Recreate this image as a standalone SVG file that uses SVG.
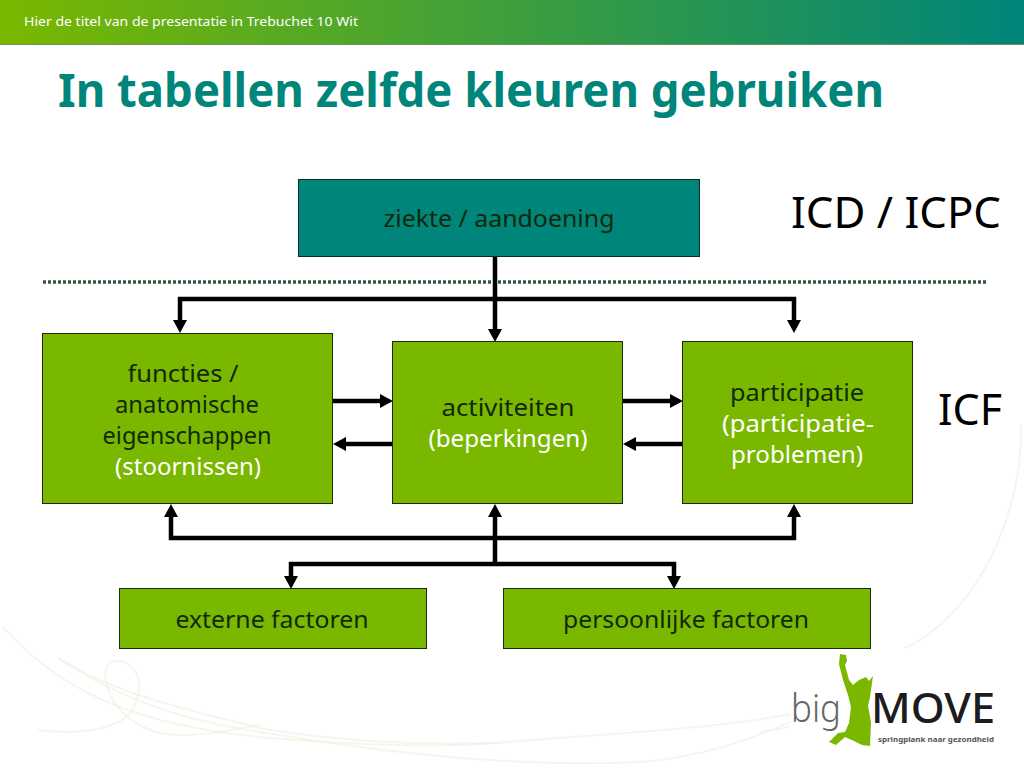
<svg xmlns="http://www.w3.org/2000/svg" width="1024" height="768" viewBox="0 0 1024 768">
<style>
text{font-family:"Noto Sans","Open Sans","Liberation Sans",sans-serif;text-anchor:middle;font-variant-ligatures:none}
.n{font-size:24px;fill:#12280a}
.w{font-size:24px;fill:#fff}
.g{fill:#7ab800;stroke:#1a2a0a;stroke-width:1}
.lab{font-size:44px;fill:#000}
.c{fill:none;stroke:#000;stroke-width:4.500}
.s{fill:none;stroke:#eff0e2;stroke-width:2;stroke-dasharray:1 .6}
</style>
<defs>
<linearGradient id="bar" x1="0" x2="1" y1="0" y2="0"><stop offset="0" stop-color="#7ab800"/><stop offset="1" stop-color="#00857a"/></linearGradient>
<marker id="a" markerUnits="userSpaceOnUse" markerWidth="16" markerHeight="16" refX="1" refY="7" orient="auto"><path d="M0 0L13 7L0 14Z" fill="#000"/></marker>
</defs>
<rect width="1024" height="768" fill="#fff"/>
<g id="swooshes">
<path class="s" d="M2 626C60 690 130 725 270 738C370 746 450 748 520 741C620 733 720 728 790 714"/>
<path class="s" d="M58 658C130 705 190 722 280 735C380 752 520 768 640 762C700 757 750 740 790 722"/>
<path class="s" d="M38 730C80 735 125 730 135 705C145 680 135 662 118 661C100 660 100 690 125 715C160 745 200 735 260 725"/>
<path class="s" d="M58 658C120 695 170 705 260 728C340 742 420 745 500 743"/>
<path class="s" d="M760 732C775 730 785 728 790 726"/>
<path class="s" d="M1021 424C1024 500 985 610 905 648"/>
</g>
<g id="header">
<rect width="1024" height="44" fill="url(#bar)"/>
<path d="M0 44.500H1024" stroke="#6f8f60" stroke-width="1"/>
<text x="24" y="26" font-size="12.500" fill="#fff" style="text-anchor:start" textLength="334" lengthAdjust="spacingAndGlyphs">Hier de titel van de presentatie in Trebuchet 10 Wit</text>
</g>
<text id="title" x="58" y="107" font-size="47" font-weight="700" fill="#00857a" style="text-anchor:start" textLength="826" lengthAdjust="spacingAndGlyphs">In tabellen zelfde kleuren gebruiken</text>
<path id="divider" d="M43 282H987" fill="none" stroke="#2f5a3c" stroke-width="3.500" stroke-dasharray="3 2"/>
<g id="connectors">
<path class="c" d="M495 257V330" marker-end="url(#a)"/>
<path class="c" d="M495 299H180V321" marker-end="url(#a)"/>
<path class="c" d="M495 299H794V321" marker-end="url(#a)"/>
<path class="c" d="M333 401H381" marker-end="url(#a)"/>
<path class="c" d="M393 444H345" marker-end="url(#a)"/>
<path class="c" d="M623 401H671" marker-end="url(#a)"/>
<path class="c" d="M683 444H635" marker-end="url(#a)"/>
<path class="c" d="M495 538H171V516" marker-end="url(#a)"/>
<path class="c" d="M495 538H794V516" marker-end="url(#a)"/>
<path class="c" d="M495 564V516" marker-end="url(#a)"/>
<path class="c" d="M495 564H291V577" marker-end="url(#a)"/>
<path class="c" d="M495 564H674V577" marker-end="url(#a)"/>
</g>
<g id="ziekte">
<rect x="298.500" y="179.500" width="401" height="77" fill="#00857a" stroke="#0c2a26"/>
<text class="n" x="499" y="227" textLength="231" lengthAdjust="spacingAndGlyphs">ziekte / aandoening</text>
</g>
<g id="functies">
<rect class="g" x="42.500" y="333.500" width="290" height="170"/>
<text class="n" x="183" y="382" textLength="111" lengthAdjust="spacingAndGlyphs">functies /</text>
<text class="n" x="187" y="413" textLength="144" lengthAdjust="spacingAndGlyphs">anatomische</text>
<text class="n" x="187" y="444" textLength="169" lengthAdjust="spacingAndGlyphs">eigenschappen</text>
<text class="w" x="188" y="475" textLength="146" lengthAdjust="spacingAndGlyphs">(stoornissen)</text>
</g>
<g id="activiteiten">
<rect class="g" x="392.500" y="341.500" width="230" height="162"/>
<text class="n" x="508" y="416" textLength="133" lengthAdjust="spacingAndGlyphs">activiteiten</text>
<text class="w" x="508" y="447" textLength="159" lengthAdjust="spacingAndGlyphs">(beperkingen)</text>
</g>
<g id="participatie">
<rect class="g" x="682.500" y="341.500" width="230" height="162"/>
<text class="n" x="797" y="401" textLength="134" lengthAdjust="spacingAndGlyphs">participatie</text>
<text class="w" x="798" y="432" textLength="152" lengthAdjust="spacingAndGlyphs">(participatie-</text>
<text class="w" x="797" y="463" textLength="132" lengthAdjust="spacingAndGlyphs">problemen)</text>
</g>
<g id="externe">
<rect class="g" x="119.500" y="588.500" width="307" height="60"/>
<text class="n" x="272" y="628" textLength="193" lengthAdjust="spacingAndGlyphs">externe factoren</text>
</g>
<g id="persoonlijke">
<rect class="g" x="503.500" y="588.500" width="367" height="60"/>
<text class="n" x="686" y="628" textLength="246" lengthAdjust="spacingAndGlyphs">persoonlijke factoren</text>
</g>
<text id="icd" class="lab" x="896" y="228" textLength="210" lengthAdjust="spacingAndGlyphs">ICD / ICPC</text>
<text id="icf" class="lab" x="970" y="425" textLength="64" lengthAdjust="spacingAndGlyphs">ICF</text>
<g id="logo">
<path fill="#7ab800" d="M840 654L846 655L847 661L845 665L849 680L853 685L859 680L866 677L869 681L873 676L870 697L868 706L871 722L870 746L862 745L854 741L845 737L836 745L829 742L838 733L845 732L849 723L851 707L848 695L843 680L839 664Z"/>
<text x="816" y="722" font-size="38" fill="#666" style="font-weight:300" textLength="50" lengthAdjust="spacingAndGlyphs">big</text>
<text x="933" y="723" font-size="42" font-weight="500" fill="#1c1c20" textLength="124" lengthAdjust="spacingAndGlyphs">MOVE</text>
<text x="936" y="742" font-size="7.500" font-weight="700" fill="#555" textLength="116" lengthAdjust="spacingAndGlyphs">springplank naar gezondheid</text>
</g>
</svg>
